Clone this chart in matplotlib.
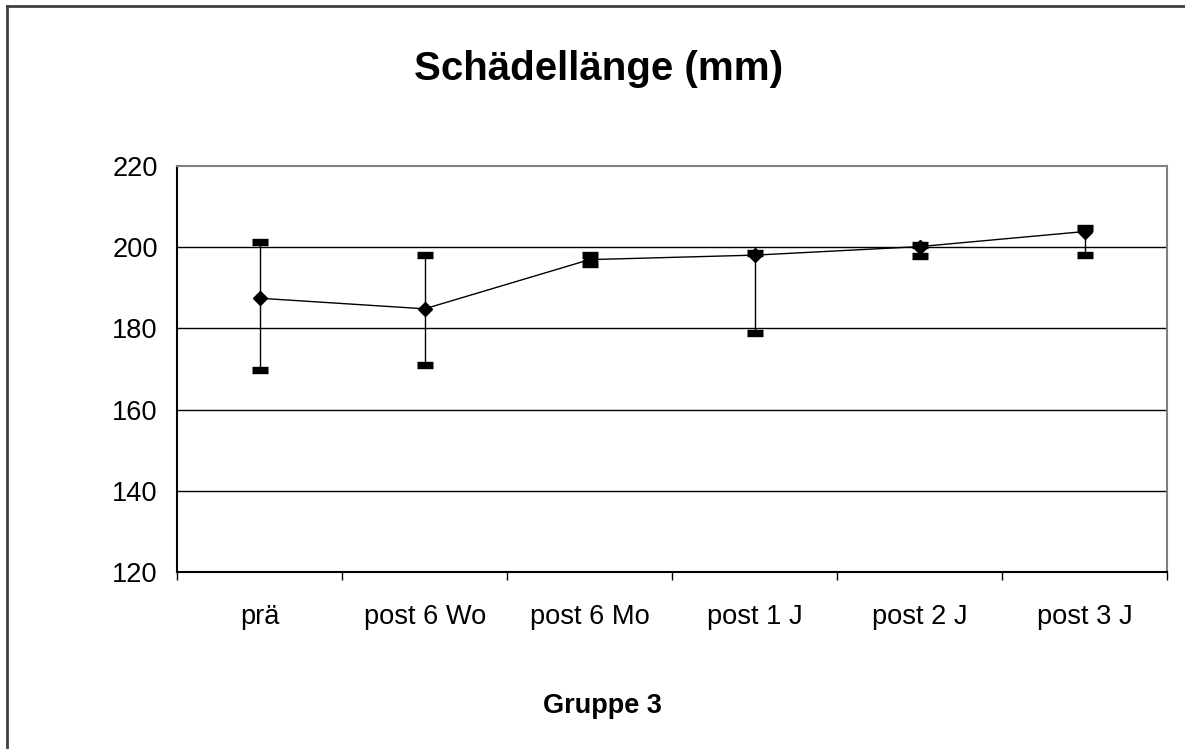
import matplotlib
matplotlib.use("Agg")
import matplotlib.pyplot as plt
from matplotlib.lines import Line2D
import numpy as np

plt.rcParams['font.family'] = ['Liberation Sans', 'DejaVu Sans']

categories = ["prä", "post 6 Wo", "post 6 Mo", "post 1 J", "post 2 J", "post 3 J"]
means = [187.4, 184.8, 196.9, 198.0, 200.1, 203.8]
upper = [201.2, 198.0, 198.0, 198.5, 200.5, 204.6]
lower = [169.7, 171.0, 195.8, 178.9, 197.9, 198.0]

fig = plt.figure(figsize=(11.85, 7.49), dpi=100)
ax = fig.add_axes([0.1496, 0.2359, 0.8352, 0.5429])

x = np.arange(len(categories))
m = np.array(means)
yerr = np.vstack([m - np.array(lower), np.array(upper) - m])

ax.errorbar(x, m, yerr=yerr, fmt='none', ecolor='black', elinewidth=1.0,
            capsize=5.6, capthick=5.3, zorder=3)
ax.plot(x, m, color='black', lw=1.0, marker='D', markersize=7.5,
        markerfacecolor='black', markeredgecolor='black', zorder=4)

ax.set_ylim(120, 220)
ax.set_xlim(-0.5, len(categories) - 0.5)
ax.set_yticks([120, 140, 160, 180, 200, 220])
ax.tick_params(axis='y', length=0, pad=14, labelsize=19.6)

ax.set_xticks(np.arange(-0.5, len(categories), 1.0))
ax.set_xticklabels([])
ax.tick_params(axis='x', which='major', direction='out', length=6, width=1, color='black')
ax.set_xticks(x, minor=True)
ax.set_xticklabels(categories, minor=True)
ax.tick_params(axis='x', which='minor', length=0, pad=23, labelsize=19.6)

for v in [140, 160, 180, 200]:
    ax.axhline(v, color='black', lw=1.0, zorder=1)

ax.spines['left'].set_color('black')
ax.spines['bottom'].set_color('black')
ax.spines['top'].set_color('#808080')
ax.spines['right'].set_color('#808080')
for s in ax.spines.values():
    s.set_linewidth(1.5)

fig.text(0.5055, 0.908, "Schädellänge (mm)", ha='center', va='center',
         fontsize=29, fontweight='bold')
fig.text(0.5085, 0.058, "Gruppe 3", ha='center', va='center',
         fontsize=19.5, fontweight='bold')

fig.add_artist(Line2D([0.0062, 0.0062], [0.0, 0.9925], transform=fig.transFigure,
                      color='#404040', lw=2))
fig.add_artist(Line2D([0.0062, 1.0], [0.9925, 0.9925], transform=fig.transFigure,
                      color='#404040', lw=2))

fig.savefig("out.png", dpi=100, facecolor='white')
